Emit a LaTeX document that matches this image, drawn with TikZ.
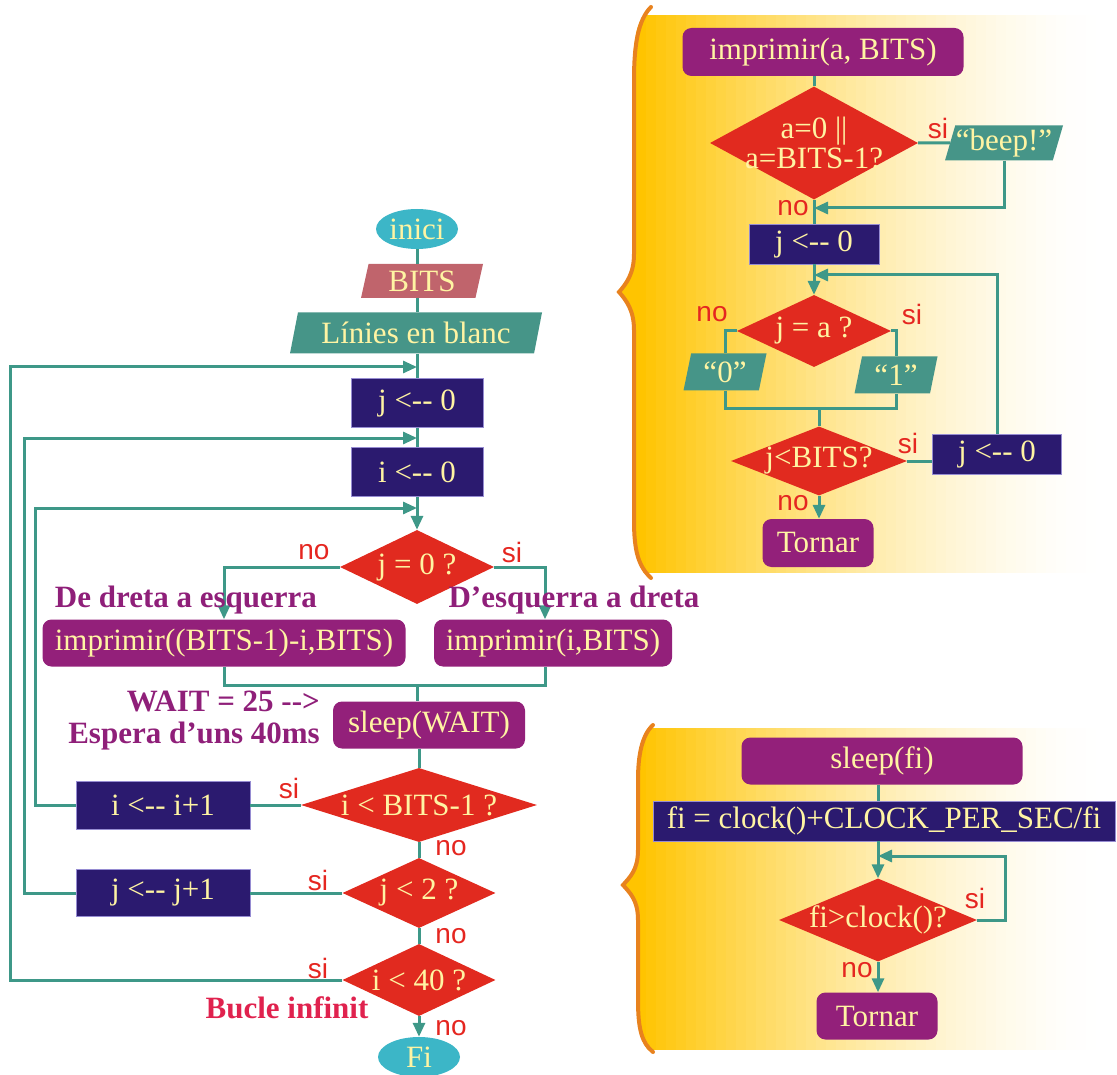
\documentclass[tikz,border=0pt]{standalone}
\usepackage{fontspec}
\setmainfont{Liberation Serif}
\newfontfamily\sanslab{Liberation Sans}
\usetikzlibrary{shapes.geometric,arrows.meta}
\definecolor{lnkc}{RGB}{62,152,136}
\definecolor{termc}{RGB}{60,182,199}
\definecolor{rosec}{RGB}{192,100,108}
\definecolor{ioc}{RGB}{70,149,136}
\definecolor{navy}{RGB}{43,26,111}
\definecolor{navyedge}{RGB}{150,140,210}
\definecolor{purp}{RGB}{147,32,122}
\definecolor{redd}{RGB}{225,42,31}
\definecolor{ytxt}{RGB}{255,244,163}
\definecolor{redlab}{RGB}{229,38,32}
\definecolor{purlab}{RGB}{143,31,121}
\definecolor{crim}{RGB}{224,34,78}
\definecolor{glow}{RGB}{255,196,0}
\definecolor{bracec}{RGB}{232,130,30}
\newcommand\dtxt[1]{\makebox[0pt]{#1}}
\begin{document}
\begin{tikzpicture}[x=1pt,y=-1pt,
 txt/.style={text=ytxt,font=\fontsize{31}{34}\selectfont},
 term/.style={ellipse,fill=termc,txt,inner sep=0pt,minimum width=82,minimum height=40},
 io/.style={trapezium,trapezium left angle=70,trapezium right angle=110,trapezium stretches body,fill=ioc,txt,inner xsep=0pt,inner ysep=0pt},
 box/.style={rectangle,fill=navy,draw=navyedge,line width=0.8pt,txt,inner xsep=3pt,inner ysep=0pt},
 proc/.style={rectangle,rounded corners=9pt,fill=purp,txt,inner xsep=3pt,inner ysep=0pt},
 dec/.style={diamond,fill=redd,txt,inner sep=0pt},
 lnk/.style={draw=lnkc,line width=3pt},
 arr/.style={lnk,-{Triangle[length=14pt,width=12pt]}},
 lab/.style={text=redlab,font=\sanslab\fontsize{28}{30}\selectfont,inner sep=0pt},
 note/.style={text=purlab,font=\bfseries\fontsize{31}{32}\selectfont,inner sep=0pt},
 brc/.style={draw=bracec,line width=4pt,line cap=round}]%
% main program on the left, the two routines on the right
\useasboundingbox (0,0) rectangle (1117,1075);
% panels behind the routines
\begin{scope}
\clip (644,15) -- (1117,15) -- (1117,573) -- (644,573) .. controls (636,560) and (633,545) .. (633,520)
 -- (633,330) .. controls (633,310) and (625,300) .. (618,292) .. controls (625,284) and (633,274) .. (633,254)
 -- (633,70) .. controls (633,45) and (636,25) .. cycle;
\fill[glow] (610,10) rectangle (647,580);
\foreach \k in {0,...,46}{
 \pgfmathsetmacro\pc{100*((46-\k)/46)^1.6}
 \fill[glow!\pc!white] (636+10*\k,15) rectangle (647+10*\k,573);
}
\end{scope}
\begin{scope}
\clip (648,728) -- (1117,728) -- (1117,1050) -- (648,1050) .. controls (640,1040) and (637,1025) .. (637,1000)
 -- (637,920) .. controls (637,900) and (629,893) .. (622,885) .. controls (629,877) and (637,870) .. (637,850)
 -- (637,780) .. controls (637,755) and (640,740) .. cycle;
\fill[glow] (610,720) rectangle (647,1060);
\foreach \k in {0,...,46}{
 \pgfmathsetmacro\pc{100*((46-\k)/46)^1.6}
 \fill[glow!\pc!white] (636+10*\k,728) rectangle (647+10*\k,1050);
}
\end{scope}
\draw[brc] (651,7) .. controls (638,20) and (634,45) .. (634,80) -- (634,254) .. controls (634,274) and (626,284) .. (619,292)
 .. controls (626,300) and (634,310) .. (634,330) -- (634,520) .. controls (634,550) and (638,566) .. (651,578);
\draw[brc] (653,725) .. controls (642,735) and (638,755) .. (638,780) -- (638,850) .. controls (638,870) and (630,877) .. (623,885)
 .. controls (630,893) and (638,900) .. (638,920) -- (638,1000) .. controls (638,1030) and (642,1043) .. (653,1052);
% main program
\node[term] (ini) at (417,229) {inici};
\node[io,fill=rosec,minimum width=122,minimum height=34] (bits) at (422,281) {BITS};
\node[io,minimum width=252,minimum height=41] (blanc) at (416,333) {Línies en blanc};
\node[box,minimum width=132,minimum height=49] (j0) at (417,403) {j <-{}- 0};
\node[box,minimum width=132,minimum height=49] (i0) at (417,472) {i <-{}- 0};
\coordinate (m1) at (417,367);
\coordinate (m2) at (417,438);
\coordinate (m3) at (417,508);
\coordinate (o1) at (10,367);
\coordinate (o2) at (24,438);
\coordinate (o3) at (35,508);
\node[dec,minimum width=154,minimum height=74] (dj) at (417,567) {\dtxt{j = 0 ?}};
\node[proc,minimum width=363,minimum height=47] (impl) at (224,643) {imprimir((BITS-1)-i,BITS)};
\node[proc,minimum width=238,minimum height=47] (impr) at (553,643) {imprimir(i,BITS)};
\coordinate (jn) at (417,685);
\node[proc,minimum width=192,minimum height=47] (slp) at (429,725) {sleep(WAIT)};
\node[dec,minimum width=236,minimum height=74] (di) at (419,805) {\dtxt{i < BITS-1 ?}};
\node[box,minimum width=174,minimum height=48] (inc) at (163,805) {i <-{}- i+1};
\node[dec,minimum width=153,minimum height=70] (dj2) at (419,893) {\dtxt{j < 2 ?}};
\node[box,minimum width=174,minimum height=47] (jnc) at (163,893) {j <-{}- j+1};
\node[dec,minimum width=153,minimum height=72] (dk) at (419,980) {\dtxt{i < 40 ?}};
\node[term] (fi) at (419,1057) {Fi};
\draw[lnk] (ini.south) -- (ini.south |- bits.north) (ini.south |- bits.south) -- (ini.south |- blanc.north)
 (ini.south |- blanc.south) -- (j0.north) (j0.south) -- (i0.north);
\draw[arr] (i0.south) -- (dj.north);
\draw[arr] (dj.west) -| (impl.north);
\draw[arr] (dj.east) -| ([xshift=-8pt]impr.north);
\draw[lnk] (impl.south) |- (jn) -| ([xshift=-8pt]impr.south);
\draw[lnk] (jn) -- (jn |- slp.north);
\draw[lnk] (slp.south -| di.north) -- (di.north);
\draw[lnk] (di.west) -- (inc.east);
\draw[arr] (inc.west) -| (o3) -- (m3);
\draw[lnk] (di.south) -- (dj2.north);
\draw[lnk] (dj2.west) -- (jnc.east);
\draw[arr] (jnc.west) -| (o2) -- (m2);
\draw[lnk] (dj2.south) -- (dk.north);
\draw[arr] (dk.west) -| (o1) -- (m1);
\draw[arr] (dk.south) -- (fi.north);
\node[lab] (n1) at (314,552) {no};
\node[lab] (s1) at (512,552) {si};
\node[lab] (s2) at (289,788) {si};
\node[lab] (n2) at (451,848) {no};
\node[lab] (s3) at (318,880) {si};
\node[lab] (n3) at (451,936) {no};
\node[lab] (s4) at (318,968) {si};
\node[lab] (n4) at (451,1028) {no};
\node[note] (dre) at (186,600) {De dreta a esquerra};
\node[note] (esq) at (574,600) {D’esquerra a dreta};
\node[note,align=right,anchor=east] (wt) at (320,721) {WAIT = 25 -{}->\\Espera d’uns 40ms};
\node[note,text=crim] (bcl) at (287,1008) {Bucle infinit};
% routine imprimir
\node[proc,minimum width=281,minimum height=48] (pa) at (823,52) {imprimir(a, BITS)};
\node[dec,minimum width=208,minimum height=113] (da) at (814,143) {\dtxt{\shortstack{a=0 ||\\a=BITS-1?}}};
\node[io,minimum width=118,minimum height=35] (bp) at (1004,143) {“beep!”};
\coordinate (c1) at (814,208);
\node[box,minimum width=130,minimum height=40] (ja) at (814,244) {j <-{}- 0};
\coordinate (c2) at (814,275);
\node[dec,minimum width=154,minimum height=72] (db) at (814,331) {\dtxt{j = a ?}};
\node[io,minimum width=83,minimum height=37] (q0) at (725,372) {“0”};
\node[io,minimum width=83,minimum height=37] (q1) at (896,375) {“1”};
\coordinate (c3) at (819,408);
\node[dec,minimum width=176,minimum height=69] (dc) at (819,461) {\dtxt{j<BITS?}};
\node[box,minimum width=129,minimum height=40] (jb) at (997,454) {j <-{}- 0};
\node[proc,minimum width=111,minimum height=48] (ta) at (818,543) {Tornar};
\draw[lnk] (pa.south -| da.north) -- (da.north);
\draw[lnk] (da.east) -- (bp.west);
\draw[arr] (bp.south) |- (c1);
\draw[lnk] (da.south) -- (ja.north);
\draw[arr] (ja.south) -- (db.north);
\draw[lnk] (db.west) -| (q0.north);
\draw[lnk] (db.east) -| (q1.north);
\draw[lnk] (q0.south) |- (c3) -| (q1.south);
\draw[lnk] (c3) -- (dc.north);
\draw[lnk] (dc.east) -- (dc.east -| jb.west);
\draw[arr] (jb.north) |- (c2);
\draw[arr] (dc.south) -- (dc.south |- ta.north);
\node[lab] (s5) at (938,128) {si};
\node[lab] (n5) at (793,208) {no};
\node[lab] (n6) at (712,314) {no};
\node[lab] (s6) at (912,314) {si};
\node[lab] (s7) at (908,443) {si};
\node[lab] (n7) at (793,503) {no};
% routine sleep
\node[proc,minimum width=281,minimum height=47] (sf) at (882,761) {sleep(fi)};
\node[box,minimum width=462,minimum height=40] (fc) at (884,821) {fi = clock()+CLOCK\_PER\_SEC/fi};
\node[dec,minimum width=198,minimum height=83] (dd) at (878,920) {\dtxt{fi>clock()?}};
\coordinate (c4) at (878,856);
\coordinate (c5) at (1005,856);
\node[proc,minimum width=121,minimum height=47] (tb) at (877,1016) {Tornar};
\draw[lnk] (sf.south -| dd.north) -- (fc.north -| dd.north);
\draw[arr] (fc.south -| dd.north) -- (dd.north);
\draw[arr] (dd.east) -| (c5) -- (c4);
\draw[arr] (dd.south) -- (dd.south |- tb.north);
\node[lab] (s8) at (975,898) {si};
\node[lab] (n8) at (857,970) {no};
\end{tikzpicture}
\end{document}
